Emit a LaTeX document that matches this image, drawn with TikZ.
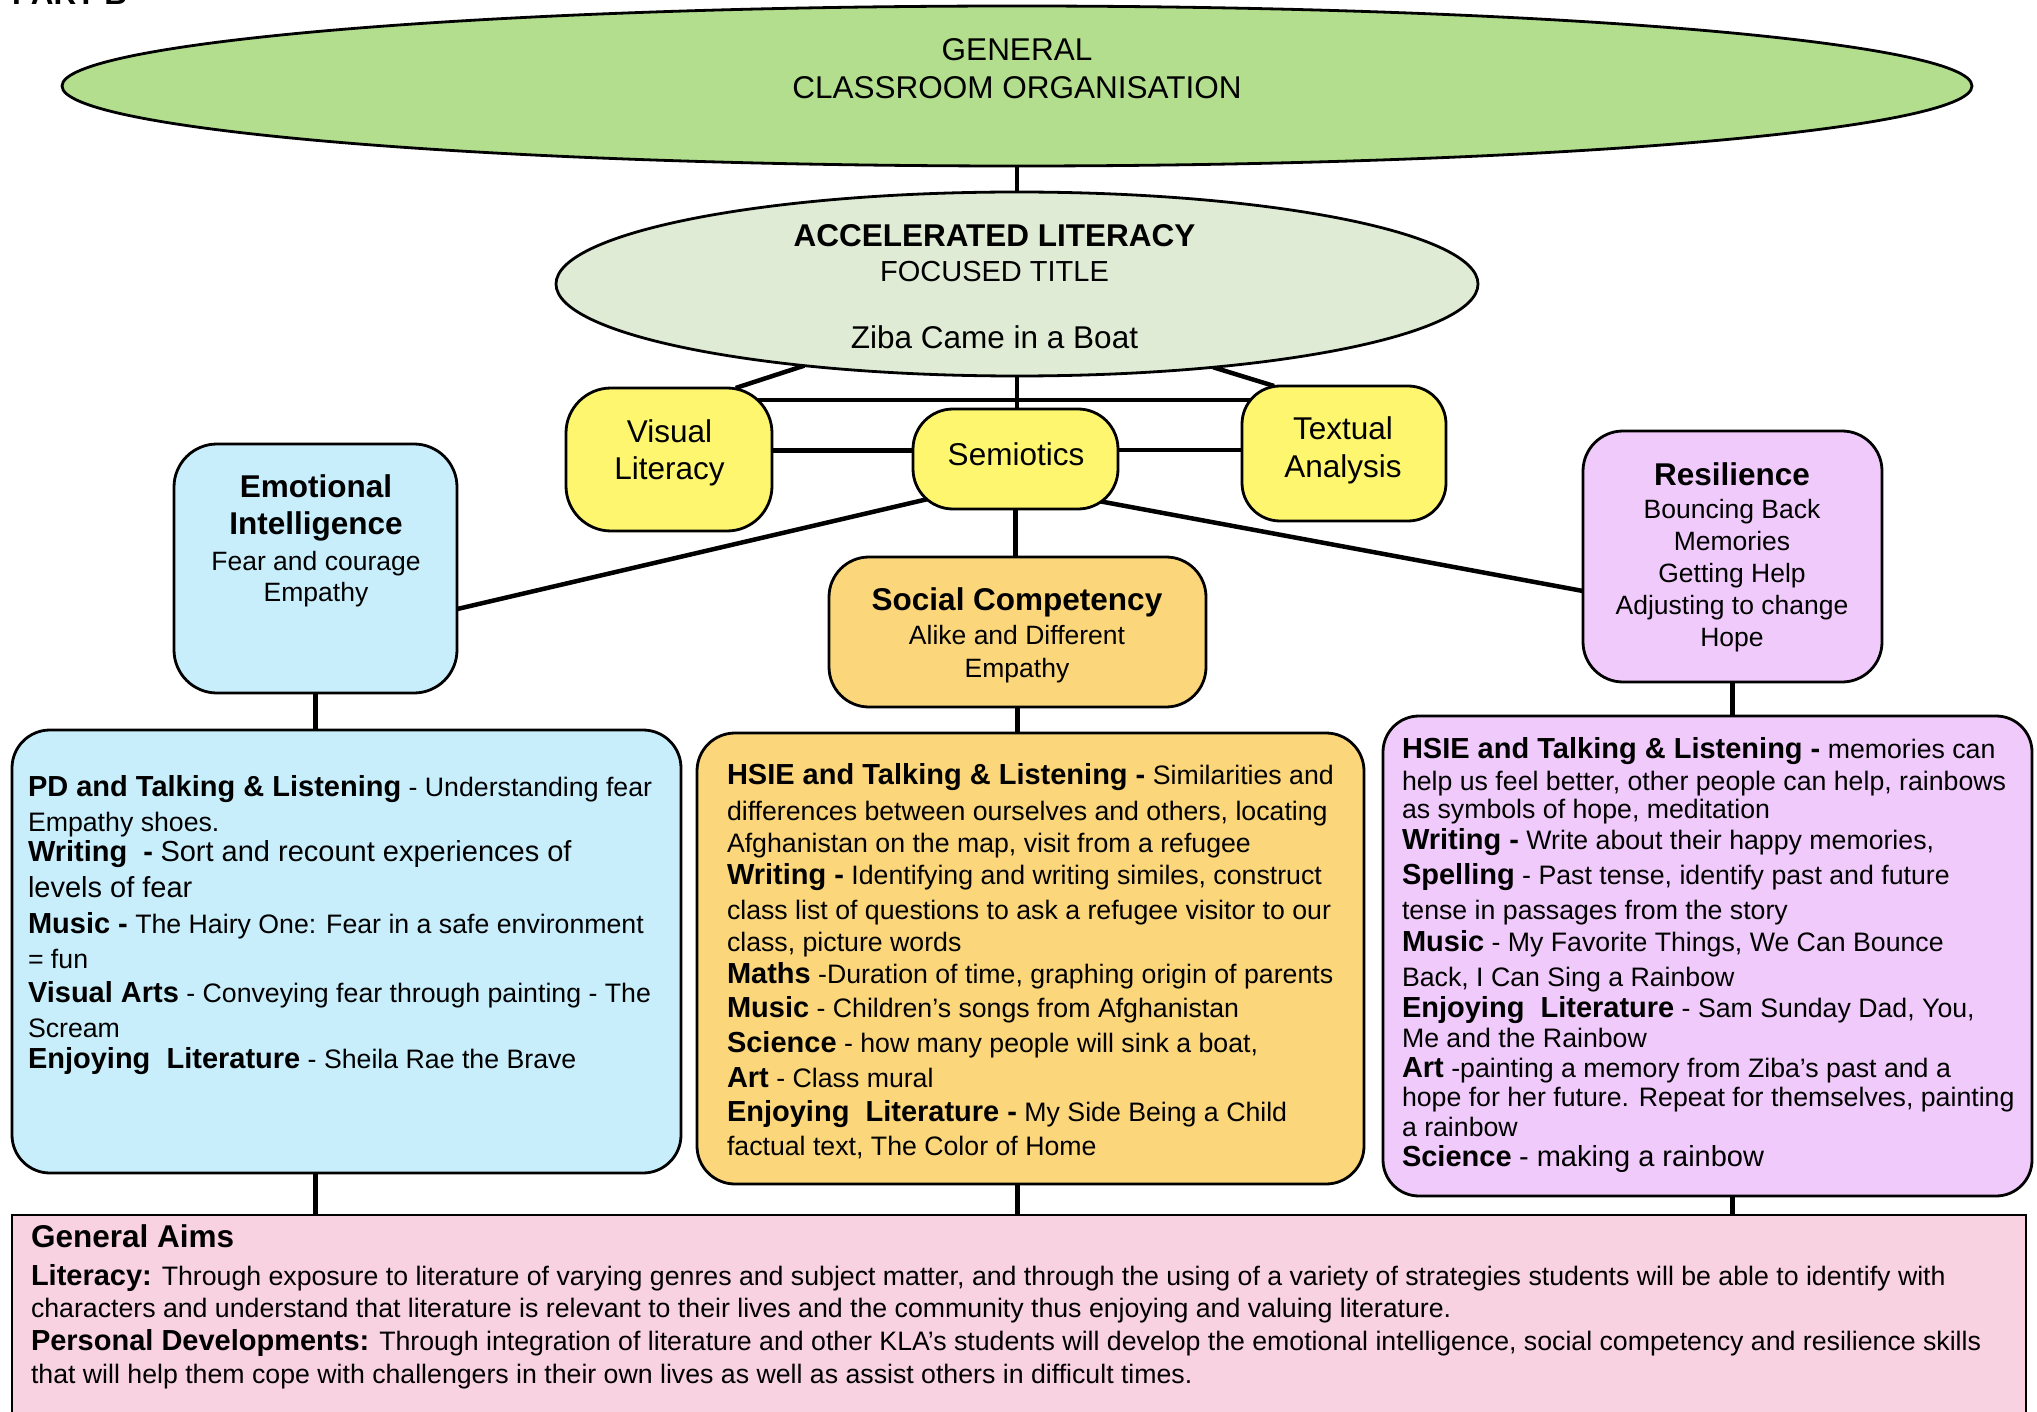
\documentclass[tikz,border=0pt]{standalone}
\usepackage{fontspec}
\setmainfont{Liberation Sans}
\usetikzlibrary{shapes.geometric,calc}
\pgfdeclarelayer{bg}
\pgfsetlayers{bg,main}
\definecolor{genG}{HTML}{B2DE8E}
\definecolor{alG}{HTML}{DFEBD4}
\definecolor{yel}{HTML}{FEF66E}
\definecolor{blu}{HTML}{C8EEFC}
\definecolor{org}{HTML}{FCD67A}
\definecolor{pur}{HTML}{F0CAFA}
\definecolor{pnk}{HTML}{F8D2E0}
\newcommand{\hd}[1]{{\fontsize{29}{\baselineskip}\selectfont\bfseries #1}}
\newcommand{\lgr}[1]{{\fontsize{29}{\baselineskip}\selectfont #1}}
\newcommand{\ttlf}{\fontsize{31.5}{\baselineskip}\selectfont\bfseries}
\newcommand{\bigf}{\fontsize{31.5}{\baselineskip}\selectfont}
\tikzset{
  conn/.style={line width=4.5pt},
  ell/.style={ellipse, draw, line width=2.8pt, inner sep=0pt, outer sep=0pt},
  rbox/.style={rectangle, rounded corners=#1, draw, line width=2.8pt, inner sep=0pt, outer sep=0pt},
  ltxt/.style={inner sep=0pt, outer sep=0pt, align=left, anchor=north west},
  ctxt/.style={inner sep=0pt, outer sep=0pt, align=center, anchor=north},
}
\begin{document}
\begin{tikzpicture}[x=1pt,y=-1pt]
\useasboundingbox (0,0) rectangle (2037,1412);

% shapes
\node[ell, fill=genG, minimum width=1910, minimum height=160] (GEN) at (1017,86) {};
\node[ell, fill=alG, minimum width=922, minimum height=184] (AL) at (1017,284) {};
\node[rbox=45pt, fill=yel, minimum width=206, minimum height=143] (VL) at (669,459.5) {};
\node[rbox=40pt, fill=yel, minimum width=205, minimum height=100] (SEM) at (1015.5,459) {};
\node[rbox=38pt, fill=yel, minimum width=204, minimum height=135] (TA) at (1344,453.5) {};
\node[rbox=43pt, fill=blu, minimum width=283, minimum height=249] (EI) at (315.5,568.5) {};
\node[rbox=40pt, fill=pur, minimum width=299, minimum height=251] (RES) at (1732.5,556.5) {};
\node[rbox=40pt, fill=org, minimum width=377, minimum height=150] (SOC) at (1017.5,632) {};
\node[rbox=38pt, fill=blu, minimum width=669, minimum height=443] (BL) at (346.5,951.5) {};
\node[rbox=38pt, fill=org, minimum width=667, minimum height=451] (OR) at (1030.5,958.5) {};
\node[rbox=36pt, fill=pur, minimum width=649, minimum height=480] (PU) at (1707.5,956) {};
\node[rectangle, draw, line width=2.5pt, fill=pnk, inner sep=0pt, outer sep=0pt, minimum width=2014, minimum height=225] (PK) at (1019,1327.5) {};

% connectors
\begin{pgfonlayer}{bg}
\draw[conn] (GEN.south) -- (AL.north);
\draw[conn] (AL.201) -- (VL.47.3);
\draw[conn] (AL.337) -- (TA.136.8);
\draw[conn] (AL.south) -- (AL.south |- SEM.north);
\draw[conn] ($(VL.30.8)+(-40,0)$) -- ($(VL.30.8 -| TA.west)+(40,0)$);
\draw[conn] (VL.5.3) -- (VL.5.3 -| SEM.west);
\draw[conn] (SEM.5) -- (SEM.5 -| TA.west);
\draw[conn] (EI.-16) -- ($(EI.-16)!1.1!(SEM.203.8)$);
\draw[conn] (RES.193.4) -- ($(RES.193.4)!1.1!(SEM.-24.2)$);
\draw[conn] (SEM.south) -- (SEM.south |- SOC.north);
\draw[conn] (EI.south) -- (EI.south |- BL.north);
\draw[conn] (SOC.south) -- (SOC.south |- OR.north);
\draw[conn] (RES.south) -- (RES.south |- PU.north);
\draw[conn] (EI.south |- BL.south) -- (EI.south |- PK.north);
\draw[conn] (SOC.south |- OR.south) -- (SOC.south |- PK.north);
\draw[conn] (RES.south |- PU.south) -- (RES.south |- PK.north);
\end{pgfonlayer}

% texts
\node[inner sep=0pt, anchor=base west, font=\fontsize{31.5}{36}\selectfont\bfseries] (partb) at (12,5) {PART B};
\node[ctxt, font=\fontsize{31.5}{38}\selectfont] (gent) at (1017,39) {GENERAL\\CLASSROOM ORGANISATION};
\node[ctxt, font=\fontsize{29}{35}\selectfont] (alt) at (994.5,225) {{\ttlf ACCELERATED LITERACY}\\FOCUSED TITLE\\[31.3pt]{\bigf Ziba Came in a Boat}};
\node[ctxt, font=\fontsize{31.5}{36.5}\selectfont] (vlt) at (669.5,420) {Visual\\Literacy};
\node[ctxt, font=\fontsize{31.5}{36.5}\selectfont] (semt) at (1016,443) {Semiotics};
\node[ctxt, font=\fontsize{31.5}{37.5}\selectfont] (tat) at (1343,417) {Textual\\Analysis};
\node[ctxt, font=\fontsize{26.5}{31}\selectfont] (eit) at (316,475) {{\ttlf Emotional}\\[6pt]{\ttlf Intelligence}\\[5pt]Fear and courage\\Empathy};
\node[ctxt, font=\fontsize{26.5}{32}\selectfont] (rest) at (1732,463) {{\ttlf Resilience}\\[1pt]Bouncing Back\\Memories\\Getting Help\\Adjusting to change\\Hope};
\node[ctxt, font=\fontsize{26.5}{33}\selectfont] (soct) at (1017,588) {{\ttlf Social Competency}\\[1pt]Alike and Different\\Empathy};

\node[ltxt, font=\fontsize{26.7}{30}\selectfont] (blt) at (28,775) {%
\hd{PD and Talking \& Listening} - Understanding fear\\[5pt]
Empathy shoes.\\
\hd{Writing\ \ -} \lgr{Sort and recount experiences of}\\[6pt]
\lgr{levels of fear}\\[6pt]
\hd{Music -} The Hairy One: Fear in a safe environment\\[5pt]
= fun\\[4pt]
\hd{Visual Arts} - Conveying fear through painting - The\\[5pt]
Scream\\[1pt]
\hd{Enjoying\ \ Literature} - Sheila Rae the Brave};

\node[ltxt, font=\fontsize{26.7}{32}\selectfont] (ort) at (727,763) {%
\hd{HSIE and Talking \& Listening -} Similarities and\\[4pt]
differences between ourselves and others, locating\\
Afghanistan on the map, visit from a refugee\\
\hd{Writing -} Identifying and writing similes, construct\\[3pt]
class list of questions to ask a refugee visitor to our\\
class, picture words\\
\hd{Maths} -Duration of time, graphing origin of parents\\[2pt]
\hd{Music} - Children’s songs from Afghanistan\\[3pt]
\hd{Science} - how many people will sink a boat,\\[3pt]
\hd{Art} - Class mural\\[2pt]
\hd{Enjoying\ \ Literature -} My Side Being a Child\\[2pt]
factual text, The Color of Home};

\node[ltxt, font=\fontsize{26.7}{30}\selectfont] (put) at (1402,737) {%
\hd{HSIE and Talking \& Listening -} memories can\\[2pt]
help us feel better, other people can help, rainbows\\[-2pt]
as symbols of hope, meditation\\[1pt]
\hd{Writing -} Write about their happy memories,\\[5pt]
\hd{Spelling} - Past tense, identify past and future\\[5pt]
tense in passages from the story\\[2pt]
\hd{Music} - My Favorite Things, We Can Bounce\\[5pt]
Back, I Can Sing a Rainbow\\[1pt]
\hd{Enjoying\ \ Literature} - Sam Sunday Dad, You,\\
Me and the Rainbow\\
\hd{Art} -painting a memory from Ziba’s past and a\\[-1pt]
hope for her future. Repeat for themselves, painting\\
a rainbow\\
\hd{Science} \lgr{- making a rainbow}};

\node[ltxt, font=\fontsize{26.7}{32}\selectfont] (pkt) at (31,1225) {%
{\ttlf General Aims}\\[6pt]
\hd{Literacy:} Through exposure to literature of varying genres and subject matter, and through the using of a variety of strategies students will be able to identify with\\
characters and understand that literature is relevant to their lives and the community thus enjoying and valuing literature.\\[1pt]
\hd{Personal Developments:} Through integration of literature and other KLA’s students will develop the emotional intelligence, social competency and resilience skills\\[1pt]
that will help them cope with challengers in their own lives as well as assist others in difficult times.};
\end{tikzpicture}
\end{document}
